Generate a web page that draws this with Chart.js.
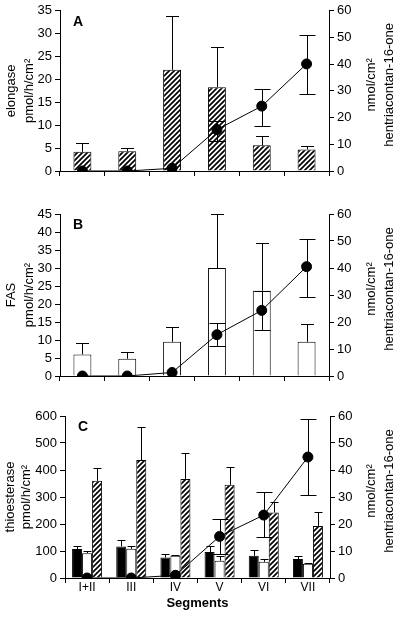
<!DOCTYPE html>
<html>
<head>
<meta charset="utf-8">
<script src="https://cdn.jsdelivr.net/npm/chart.js@4"></script>
<style>
  body { margin: 0; background: #fff; width: 401px; height: 624px; overflow: hidden; }
  canvas { position: absolute; left: 0; }
</style>
</head>
<body>
<canvas id="chartA" width="401" height="200" style="top:0"></canvas>
<canvas id="chartB" width="401" height="200" style="top:200px"></canvas>
<canvas id="chartC" width="401" height="224" style="top:400px"></canvas>
<script>
// segments along the gut
const segments = ["I+II", "III", "IV", "V", "VI", "VII"]

// A: elongase activity (pmol/h/cm2), upper error limits
const elongase = [4.2, 4.3, 22.1, 18.3, 5.6, 4.7]
const elongaseErr = [6.2, 5.0, 33.8, 27.1, 7.6, 5.4]

// B: FAS activity
const fas = [6.0, 4.8, 9.5, 30, 23.7, 9.5]
const fasErr = [9.2, 6.7, 13.5, 45, 37, 14.4]

// C: thioesterase activity, three bar series
const thioBlack = [107, 117, 76, 96, 82, 70]
const thioBlackErr = [117, 142, 89, 120, 102, 82]
const thioWhite = [92, 108, 82, 64, 60, 53]
const thioWhiteErr = [99, 120, 86, 82, 71, 56]
const thioHatch = [360, 437, 367, 345, 243, 193]
const thioHatchErr = [406, 558, 464, 412, 280, 244]

// hentriacontan-16-one (nmol/cm2), right axis, with error range
const ketoneA = [0, 0, 1, 15.5, 24.3, 40.1]
const ketoneAUp = [null, null, null, 18.6, 30.8, 50.8]
const ketoneALow = [null, null, null, 11.3, 16.8, 28.9]
const ketoneB = [0, 0, 1.3, 15.3, 24.3, 40.5]
const ketoneBUp = [null, null, null, 19.6, 31.5, 50.8]
const ketoneBLow = [null, null, null, 11.1, 17.2, 29.3]
const ketoneC = [0, 0, 1, 15.4, 23.3, 44.8]
const ketoneCUp = [null, null, null, 21.8, 31.9, 58.8]
const ketoneCLow = [null, null, null, 9, 15.1, 30.7]

const FONT = '"Liberation Sans", Arial, sans-serif'
Chart.defaults.font.family = FONT
Chart.defaults.font.size = 13
Chart.defaults.color = "#000"

// diagonal hatch fill
function hatchPattern() {
  const s = 5
  const c = document.createElement("canvas")
  c.width = s; c.height = s
  const g = c.getContext("2d")
  g.fillStyle = "#fff"; g.fillRect(0, 0, s, s)
  g.strokeStyle = "#000"; g.lineWidth = 1.7
  g.beginPath()
  g.moveTo(-1, s + 1); g.lineTo(s + 1, -1)
  g.moveTo(-1, 1); g.lineTo(1, -1)
  g.moveTo(s - 1, s + 1); g.lineTo(s + 1, s - 1)
  g.stroke()
  return g.createPattern(c, "repeat")
}
const HATCH = hatchPattern()

// error whiskers from each mark to its limit
const errorBars = {
  id: "errorBars",
  afterDatasetsDraw(chart) {
    const ctx = chart.ctx
    chart.data.datasets.forEach((ds, di) => {
      if (!ds.errUp) return
      const meta = chart.getDatasetMeta(di)
      const scale = chart.scales[meta.yAxisID]
      const cap = ds.errCap / 2
      ctx.save()
      ctx.strokeStyle = "#000"
      ctx.lineWidth = 1
      meta.data.forEach((el, i) => {
        [ds.errUp, ds.errLow].forEach(arr => {
          if (!arr || arr[i] == null) return
          const y = Math.round(scale.getPixelForValue(arr[i])) + 0.5
          const x = Math.round(el.x) + 0.5
          ctx.beginPath()
          ctx.moveTo(x, el.y); ctx.lineTo(x, y)
          ctx.moveTo(x - cap, y); ctx.lineTo(x + cap, y)
          ctx.stroke()
        })
      })
      ctx.restore()
    })
  }
}

// panel letter and right-hand axis title (reads bottom to top)
const panelText = {
  id: "panelText",
  afterDraw(chart, args, opts) {
    const { ctx, chartArea } = chart
    ctx.save()
    ctx.fillStyle = "#000"
    ctx.textAlign = "center"
    ctx.textBaseline = "middle"
    ctx.font = "bold 14px " + FONT
    ctx.fillText(opts.letter, chartArea.left + 18, chartArea.top + 11)
    ctx.font = "13px " + FONT
    const cy = (chartArea.top + chartArea.bottom) / 2 - 6
    opts.rightTitle.forEach((t, k) => {
      ctx.save()
      ctx.translate(opts.rightX[k], cy)
      ctx.rotate(-Math.PI / 2)
      ctx.fillText(t, 0, 0)
      ctx.restore()
    })
    ctx.restore()
  }
}

function ketoneLine(values, up, low) {
  return {
    type: "line", data: values, yAxisID: "y1", order: 0,
    borderColor: "#000", borderWidth: 1,
    pointRadius: 5, pointBackgroundColor: "#000", pointBorderColor: "#000",
    errUp: up, errLow: low, errCap: 16
  }
}

function makePanel(id, opts) {
  return new Chart(document.getElementById(id), {
    type: "bar",
    data: { labels: segments, datasets: opts.datasets },
    options: {
      responsive: false,
      animation: false,
      layout: { padding: { top: opts.top, left: 0, right: 0, bottom: 0 } },
      datasets: { bar: { categoryPercentage: opts.catPct, barPercentage: opts.barPct } },
      plugins: {
        legend: { display: false },
        tooltip: { enabled: false },
        panelText: { letter: opts.letter, rightTitle: ["nmol/cm²", "hentriacontan-16-one"], rightX: [371, 389] }
      },
      scales: {
        x: {
          grid: { offset: true, drawOnChartArea: false, color: "#000", tickLength: 5 },
          border: { color: "#000" },
          ticks: { display: opts.showX, maxRotation: 0, autoSkip: false, padding: -3, font: { size: 12 } },
          title: { display: opts.showX, text: "Segments", font: { size: 13, weight: "bold" }, padding: { top: 0, bottom: 13 } },
          afterFit: s => { s.height = opts.xHeight }
        },
        y: {
          position: "left",
          min: 0, max: opts.yMax,
          grid: { drawOnChartArea: false, color: "#000", tickLength: 5 },
          border: { color: "#000" },
          ticks: { stepSize: opts.yStep, padding: 3, autoSkip: false, font: { lineHeight: 1 } },
          title: { display: true, text: opts.yTitle, font: { size: 13, lineHeight: opts.titleLh }, padding: { top: opts.titlePad, bottom: 0 } },
          afterFit: s => { s.width = opts.left }
        },
        y1: {
          position: "right",
          min: 0, max: 60,
          grid: { drawOnChartArea: false, color: "#000", tickLength: 5 },
          border: { color: "#000" },
          ticks: { stepSize: 10, padding: 3, autoSkip: false },
          afterFit: s => { s.width = 401 - opts.right }
        }
      }
    },
    plugins: [errorBars, panelText]
  })
}

makePanel("chartA", {
  letter: "A", top: 9, xHeight: 29, left: 60, right: 329, yMax: 35, yStep: 5,
  yTitle: ["elongase", "pmol/h/cm²"], titlePad: 2, titleLh: 1.4, showX: false, catPct: 1, barPct: 0.4,
  datasets: [
    { data: elongase, backgroundColor: HATCH, borderColor: "#000", borderWidth: 1, yAxisID: "y", order: 1, errUp: elongaseErr, errCap: 13 },
    ketoneLine(ketoneA, ketoneAUp, ketoneALow)
  ]
})

makePanel("chartB", {
  letter: "B", top: 14, xHeight: 24, left: 60, right: 329, yMax: 45, yStep: 5,
  yTitle: ["FAS", "pmol/h/cm²"], titlePad: 2, titleLh: 1.4, showX: false, catPct: 1, barPct: 0.4,
  datasets: [
    { data: fas, backgroundColor: "#fff", borderColor: "#000", borderWidth: 1, yAxisID: "y", order: 1, errUp: fasErr, errCap: 13 },
    ketoneLine(ketoneB, ketoneBUp, ketoneBLow)
  ]
})

makePanel("chartC", {
  letter: "C", top: 16, xHeight: 46, left: 65, right: 330, yMax: 600, yStep: 100,
  yTitle: ["thioesterase", "pmol/h/cm²"], titlePad: 2, titleLh: 1.25, showX: true, catPct: 0.68, barPct: 1,
  datasets: [
    { data: thioBlack, backgroundColor: "#000", borderColor: "#000", borderWidth: 1, yAxisID: "y", order: 1, errUp: thioBlackErr, errCap: 8 },
    { data: thioWhite, backgroundColor: "#fff", borderColor: "#000", borderWidth: 1, yAxisID: "y", order: 1, errUp: thioWhiteErr, errCap: 8 },
    { data: thioHatch, backgroundColor: HATCH, borderColor: "#000", borderWidth: 1, yAxisID: "y", order: 1, errUp: thioHatchErr, errCap: 8 },
    ketoneLine(ketoneC, ketoneCUp, ketoneCLow)
  ]
})
</script>
</body>
</html>
